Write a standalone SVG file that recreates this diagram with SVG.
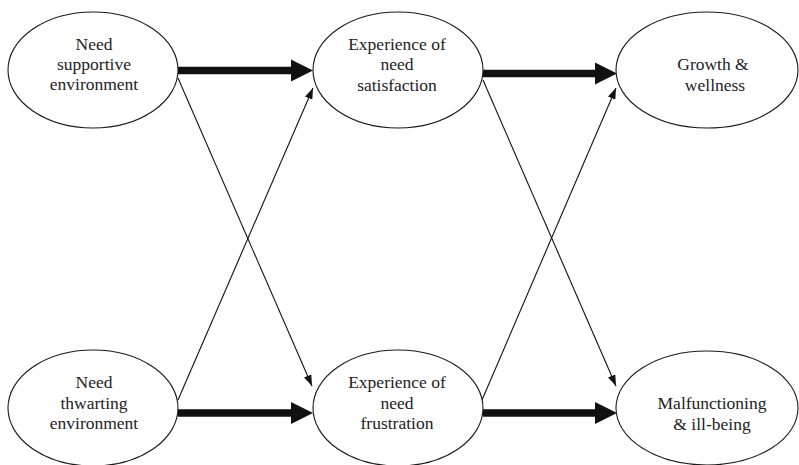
<svg xmlns="http://www.w3.org/2000/svg" width="799" height="465" viewBox="0 0 799 465">
  <style>
    .node ellipse { fill: #ffffff; stroke: #1a1a1a; stroke-width: 1.1; }
    .thick { stroke: #111111; stroke-width: 7.5; fill: none; marker-end: url(#bighead); }
    .thin { stroke: #111111; stroke-width: 1.1; fill: none; marker-end: url(#smallhead); }
  </style>
  <defs>
    <marker id="bighead" markerUnits="userSpaceOnUse" markerWidth="23" markerHeight="23" refX="0" refY="11" orient="auto" viewBox="0 0 23 22">
      <path d="M0,0 L22,11 L0,22 Z" fill="#111111"/>
    </marker>
    <marker id="smallhead" markerUnits="userSpaceOnUse" markerWidth="11" markerHeight="8" refX="11" refY="4" orient="auto" viewBox="0 0 11 8">
      <path d="M0,0 L11,4 L0,8 Z" fill="#111111"/>
    </marker>
  </defs>
  <rect width="799" height="465" fill="#ffffff"/>

  <g id="connectors">
    <line class="thick" x1="178" y1="70.5" x2="291" y2="70.5"/>
    <line class="thick" x1="483" y1="73.5" x2="595" y2="73.5"/>
    <line class="thick" x1="178" y1="413" x2="291" y2="413"/>
    <line class="thick" x1="483" y1="413" x2="595" y2="413"/>
    <line class="thin" x1="178" y1="78" x2="312" y2="386"/>
    <line class="thin" x1="178" y1="400" x2="313" y2="88"/>
    <line class="thin" x1="483" y1="80" x2="616" y2="386"/>
    <line class="thin" x1="482" y1="400" x2="616" y2="88"/>
  </g>

  <g font-family="Liberation Serif" font-size="17.5" fill="#222222" text-anchor="middle">
  <g id="need-supportive" class="node">
    <ellipse cx="93" cy="70" rx="85" ry="58"/>
    <text x="94" y="50">Need</text>
    <text x="94" y="70">supportive</text>
    <text x="94" y="90">environment</text>
  </g>
  <g id="need-satisfaction" class="node">
    <ellipse cx="398" cy="70" rx="85" ry="58"/>
    <text x="397" y="50">Experience of</text>
    <text x="397" y="70">need</text>
    <text x="397" y="91">satisfaction</text>
  </g>
  <g id="growth-wellness" class="node">
    <ellipse cx="707" cy="70" rx="91" ry="58"/>
    <text x="713" y="70">Growth &amp;</text>
    <text x="715" y="91">wellness</text>
  </g>
  <g id="need-thwarting" class="node">
    <ellipse cx="93" cy="408" rx="85" ry="58"/>
    <text x="94" y="388">Need</text>
    <text x="94" y="409">thwarting</text>
    <text x="94" y="429">environment</text>
  </g>
  <g id="need-frustration" class="node">
    <ellipse cx="398" cy="408" rx="85" ry="58"/>
    <text x="397" y="388">Experience of</text>
    <text x="397" y="409">need</text>
    <text x="397" y="429">frustration</text>
  </g>
  <g id="malfunctioning" class="node">
    <ellipse cx="707" cy="408" rx="91" ry="57"/>
    <text x="712" y="409">Malfunctioning</text>
    <text x="712" y="430">&amp; ill-being</text>
  </g>
  </g>
</svg>
